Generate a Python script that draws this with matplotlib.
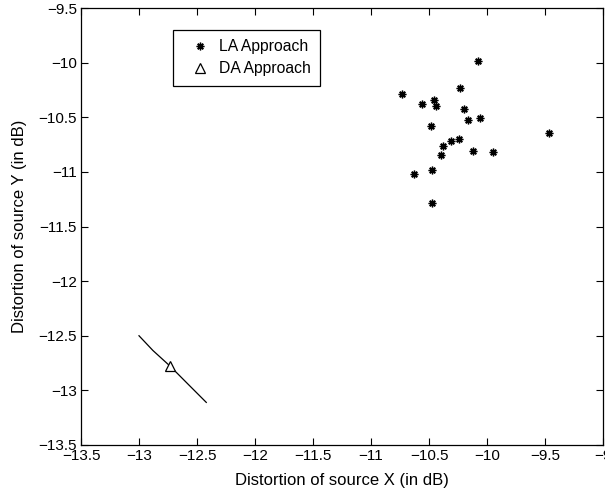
import matplotlib
matplotlib.use('Agg')
import matplotlib.pyplot as plt

plt.rcParams['font.family'] = ['Liberation Sans', 'DejaVu Sans']
plt.rcParams['axes.unicode_minus'] = True

# LA approach points
la_x = [-10.075, -10.730, -10.233, -10.558, -10.454, -10.442, -10.201, -10.164,
        -10.063, -10.483, -9.468, -10.308, -10.244, -10.382, -10.399, -10.118,
        -9.946, -10.472, -10.632, -10.472]
la_y = [-9.982, -10.287, -10.235, -10.381, -10.345, -10.400, -10.422, -10.522,
        -10.507, -10.577, -10.641, -10.715, -10.699, -10.760, -10.843, -10.812,
        -10.821, -10.980, -11.019, -11.288]

# DA approach curve and point
da_curve_x = [-13.0, -12.88, -12.73, -12.58, -12.42]
da_curve_y = [-12.5, -12.635, -12.78, -12.94, -13.11]
da_x = [-12.73]
da_y = [-12.78]

xticks = [-13.5, -13, -12.5, -12, -11.5, -11, -10.5, -10, -9.5, -9]
yticks = [-13.5, -13, -12.5, -12, -11.5, -11, -10.5, -10, -9.5]

fig = plt.figure(figsize=(6.05, 4.91), dpi=100)
ax = fig.add_axes([81/605, 46/491, 522/605, 437/491])

ax.plot(la_x, la_y, ls='none', marker=(8, 2, 0), color='k', ms=5.5, mew=1.0,
        label='LA Approach')
ax.plot(da_curve_x, da_curve_y, color='k', lw=0.9)
ax.plot(da_x, da_y, ls='none', marker='^', mfc='white', mec='k', ms=7, mew=0.9,
        label='DA Approach')

ax.set_xlim(-13.5, -9)
ax.set_ylim(-13.5, -9.5)
ax.set_xticks(xticks)
ax.set_yticks(yticks)
ax.set_xticklabels([('%g' % t).replace('-', '\u2212') for t in xticks])
ax.set_yticklabels([('%g' % t).replace('-', '\u2212') for t in yticks])
ax.tick_params(direction='in', top=True, right=True, length=5, width=0.8,
               labelsize=11, pad=3)
for s in ax.spines.values():
    s.set_linewidth(0.9)

ax.set_xlabel('Distortion of source X (in dB)', fontsize=12, labelpad=7)
ax.set_ylabel('Distortion of source Y (in dB)', fontsize=12, labelpad=8)

leg = ax.legend(loc='upper left', bbox_to_anchor=(0.176, 0.950),
                borderaxespad=0, fancybox=False, edgecolor='k', framealpha=1,
                fontsize=11.3, handlelength=2.3, handletextpad=0.05,
                borderpad=0.6, labelspacing=0.45)
leg.get_frame().set_linewidth(0.9)

fig.savefig('out.png', dpi=100)
